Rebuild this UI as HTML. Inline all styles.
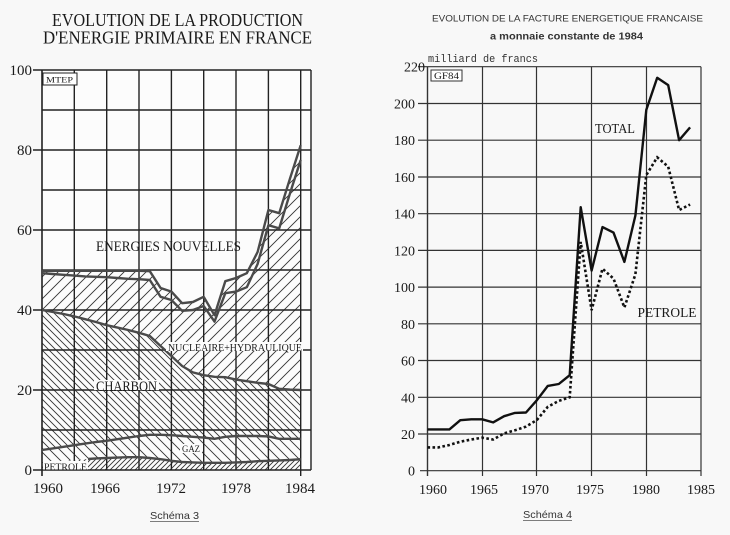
<!DOCTYPE html>
<html><head><meta charset="utf-8"><style>
html,body{margin:0;padding:0;background:#f8f8f8;}
svg{display:block;}
</style></head><body>
<svg width="730" height="535" viewBox="0 0 730 535" xmlns="http://www.w3.org/2000/svg">
<defs>
<pattern id="hP" width="5" height="5" patternUnits="userSpaceOnUse"><path d="M0,5 L5,0 M-1,1 L1,-1 M4,6 L6,4" stroke="#333" stroke-width="0.9"/></pattern>
<pattern id="hG" width="10" height="10" patternUnits="userSpaceOnUse"><path d="M0,0 L10,10 M-1,9 L1,11 M9,-1 L11,1" stroke="#333" stroke-width="0.9"/></pattern>
<pattern id="hC" width="7" height="7" patternUnits="userSpaceOnUse"><path d="M0,0 L7,7 M-1,6 L1,8 M6,-1 L8,1" stroke="#333" stroke-width="0.9"/></pattern>
<pattern id="hN" width="11" height="11" patternUnits="userSpaceOnUse"><path d="M0,11 L11,0 M-1,1 L1,-1 M10,12 L12,10" stroke="#333" stroke-width="0.9"/></pattern>
</defs>
<rect width="730" height="535" fill="#f8f8f8"/>

<!-- LEFT CHART -->
<text x="52" y="26" font-family="Liberation Serif, serif" font-size="17.5" fill="#1a1a1a" textLength="251" lengthAdjust="spacingAndGlyphs">EVOLUTION DE LA PRODUCTION</text>
<text x="43" y="43.5" font-family="Liberation Serif, serif" font-size="17.5" fill="#1a1a1a" textLength="269" lengthAdjust="spacingAndGlyphs">D'ENERGIE PRIMAIRE EN FRANCE</text>

<rect x="42" y="70" width="269" height="400" fill="#fcfcfc"/>

<!-- areas -->
<polygon fill="url(#hP)" points="42,462.8 52.8,462 63.6,461.2 74.3,460 85.1,459.2 95.9,458.4 106.7,458 117.5,457.6 128.2,457.2 139,457.2 149.8,458 160.6,459.2 171.4,460.8 182.1,462 192.9,462.4 203.7,462.8 214.5,462.8 225.3,462.8 236,462.4 246.8,462 257.6,461.2 268.4,460.8 279.2,460.4 289.9,460 300.7,459.2 300.7,470 42,470"/>
<polygon fill="url(#hG)" points="42,450 52.8,448.4 63.6,446.8 74.3,445.2 85.1,443.6 95.9,442 106.7,440.8 117.5,439.2 128.2,437.6 139,436 149.8,434.8 160.6,434.8 171.4,435.2 182.1,436 192.9,436.8 203.7,437.6 214.5,438.8 225.3,436.8 236,436 246.8,436 257.6,436 268.4,436.4 279.2,438.8 289.9,438.8 300.7,438.8 300.7,459.2 289.9,460 279.2,460.4 268.4,460.8 257.6,461.2 246.8,462 236,462.4 225.3,462.8 214.5,462.8 203.7,462.8 192.9,462.4 182.1,462 171.4,460.8 160.6,459.2 149.8,458 139,457.2 128.2,457.2 117.5,457.6 106.7,458 95.9,458.4 85.1,459.2 74.3,460 63.6,461.2 52.8,462 42,462.8"/>
<polygon fill="url(#hC)" points="42,310 52.8,312 63.6,314 74.3,316.4 85.1,319.2 95.9,322 106.7,325.2 117.5,327.6 128.2,330 139,332.8 149.8,336 160.6,346 171.4,356 182.1,366 192.9,372.4 203.7,375.2 214.5,376.8 225.3,377.2 236,379.6 246.8,381.2 257.6,382.8 268.4,384 279.2,388.8 289.9,389.6 300.7,390 300.7,438.8 289.9,438.8 279.2,438.8 268.4,436.4 257.6,436 246.8,436 236,436 225.3,436.8 214.5,438.8 203.7,437.6 192.9,436.8 182.1,436 171.4,435.2 160.6,434.8 149.8,434.8 139,436 128.2,437.6 117.5,439.2 106.7,440.8 95.9,442 85.1,443.6 74.3,445.2 63.6,446.8 52.8,448.4 42,450"/>
<polygon fill="url(#hN)" points="42,270.8 52.8,270.8 63.6,270.8 74.3,270.8 85.1,270.8 95.9,270.8 106.7,270.8 117.5,270.8 128.2,270.8 139,270.8 149.8,271.2 160.6,288 171.4,291.6 182.1,303.2 192.9,302 203.7,296.8 214.5,315.2 225.3,281.2 236,278 246.8,273.2 257.6,252 268.4,210 279.2,213.2 289.9,178.8 300.7,145.2 300.7,390 289.9,389.6 279.2,388.8 268.4,384 257.6,382.8 246.8,381.2 236,379.6 225.3,377.2 214.5,376.8 203.7,375.2 192.9,372.4 182.1,366 171.4,356 160.6,346 149.8,336 139,332.8 128.2,330 117.5,327.6 106.7,325.2 95.9,322 85.1,319.2 74.3,316.4 63.6,314 52.8,312 42,310"/>

<!-- grid -->
<g stroke="#222" stroke-width="1.4" fill="none">
<path d="M42,70 H311 M42,110 H311 M42,150 H311 M42,190 H311 M42,230 H311 M42,270 H311 M42,310 H311 M42,350 H311 M42,390 H311 M42,430 H311 M42,470 H311"/>
<path d="M74.3,70 V470 M106.7,70 V470 M139,70 V470 M171.4,70 V470 M203.7,70 V470 M236,70 V470 M268.4,70 V470 M300.7,70 V476 M311,70 V470"/>
<path d="M42,70 V476" stroke-width="1.6"/>
<path d="M33,70 H42 M33,150 H42 M33,230 H42 M33,310 H42 M33,390 H42 M33,470 H42"/>
</g>

<!-- series lines -->
<g stroke="#4a4a4a" stroke-width="2.4" fill="none" stroke-linejoin="round">
<polyline points="88,459 95.9,458.4 106.7,458 117.5,457.6 128.2,457.2 139,457.2 149.8,458 160.6,459.2 171.4,460.8 182.1,462 192.9,462.4 203.7,462.8 214.5,462.8 225.3,462.8 236,462.4 246.8,462 257.6,461.2 268.4,460.8 279.2,460.4 289.9,460 300.7,459.2"/>
<polyline points="42,450 52.8,448.4 63.6,446.8 74.3,445.2 85.1,443.6 95.9,442 106.7,440.8 117.5,439.2 128.2,437.6 139,436 149.8,434.8 160.6,434.8 171.4,435.2 182.1,436 192.9,436.8 203.7,437.6 214.5,438.8 225.3,436.8 236,436 246.8,436 257.6,436 268.4,436.4 279.2,438.8 289.9,438.8 300.7,438.8"/>
<polyline points="42,310 52.8,312 63.6,314 74.3,316.4 85.1,319.2 95.9,322 106.7,325.2 117.5,327.6 128.2,330 139,332.8 149.8,336 160.6,346 171.4,356 182.1,366 192.9,372.4 203.7,375.2 214.5,376.8 225.3,377.2 236,379.6 246.8,381.2 257.6,382.8 268.4,384 279.2,388.8 289.9,389.6 300.7,390"/>
<polyline points="42,273.2 52.8,274 63.6,274.8 74.3,275.6 85.1,276.4 95.9,276.8 106.7,277.2 117.5,278 128.2,278.8 139,279.2 149.8,280 160.6,296.8 171.4,300 182.1,310.8 192.9,310 203.7,306 214.5,321.6 225.3,293.2 236,291.6 246.8,287.2 257.6,264 268.4,225.2 279.2,228.4 289.9,193.6 300.7,160"/>
<polyline points="42,270.8 52.8,270.8 63.6,270.8 74.3,270.8 85.1,270.8 95.9,270.8 106.7,270.8 117.5,270.8 128.2,270.8 139,270.8 149.8,271.2 160.6,288 171.4,291.6 182.1,303.2 192.9,302 203.7,296.8 214.5,315.2 225.3,281.2 236,278 246.8,273.2 257.6,252 268.4,210 279.2,213.2 289.9,178.8 300.7,145.2"/>
</g>

<!-- labels -->
<rect x="43" y="73" width="34" height="12" fill="#fff" stroke="#222" stroke-width="1"/>
<text x="46" y="82.5" font-family="Liberation Serif, serif" font-size="8.5" fill="#1a1a1a" textLength="27" lengthAdjust="spacingAndGlyphs">MTEP</text>
<text x="96" y="251" font-family="Liberation Serif, serif" font-size="14.5" fill="#1a1a1a" textLength="145" lengthAdjust="spacingAndGlyphs">ENERGIES NOUVELLES</text>
<rect x="166" y="342" width="137" height="9" fill="#fcfcfc"/>
<text x="168" y="351" font-family="Liberation Serif, serif" font-size="10" fill="#1a1a1a" textLength="134" lengthAdjust="spacingAndGlyphs">NUCLEAIRE+HYDRAULIQUE</text>
<rect x="94" y="380" width="65" height="10" fill="#fcfcfc"/>
<text x="96" y="391" font-family="Liberation Serif, serif" font-size="14.5" fill="#1a1a1a" textLength="61" lengthAdjust="spacingAndGlyphs">CHARBON</text>
<rect x="180" y="444" width="22" height="9" fill="#fcfcfc"/>
<text x="182" y="452" font-family="Liberation Serif, serif" font-size="9" fill="#1a1a1a" textLength="18" lengthAdjust="spacingAndGlyphs">GAZ</text>
<rect x="43" y="461" width="45" height="8.5" fill="#fcfcfc"/>
<text x="44" y="470" font-family="Liberation Serif, serif" font-size="9" fill="#1a1a1a" textLength="43" lengthAdjust="spacingAndGlyphs">PETROLE</text>

<g font-family="Liberation Serif, serif" font-size="15" fill="#1a1a1a" text-anchor="end">
<text x="32" y="75">100</text>
<text x="32" y="155">80</text>
<text x="32" y="235">60</text>
<text x="32" y="315">40</text>
<text x="32" y="395">20</text>
<text x="32" y="475">0</text>
</g>
<g font-family="Liberation Serif, serif" font-size="15" fill="#1a1a1a" text-anchor="middle">
<text x="48" y="493">1960</text>
<text x="105" y="493">1966</text>
<text x="171" y="493">1972</text>
<text x="236" y="493">1978</text>
<text x="300" y="493">1984</text>
</g>
<text x="150" y="519" font-family="Liberation Sans, sans-serif" font-size="10.5" fill="#333" textLength="49" lengthAdjust="spacingAndGlyphs">Schéma 3</text>
<line x1="150" y1="521.5" x2="199" y2="521.5" stroke="#555" stroke-width="0.8"/>

<!-- RIGHT CHART -->
<text x="432" y="21.5" font-family="Liberation Sans, sans-serif" font-size="9.5" fill="#333" textLength="271" lengthAdjust="spacingAndGlyphs">EVOLUTION DE LA FACTURE ENERGETIQUE FRANCAISE</text>
<text x="490" y="39.5" font-family="Liberation Sans, sans-serif" font-size="10" font-weight="bold" fill="#333" textLength="153" lengthAdjust="spacingAndGlyphs">a monnaie constante de 1984</text>
<text x="428" y="62" font-family="Liberation Mono, monospace" font-size="11" fill="#333" textLength="110" lengthAdjust="spacingAndGlyphs">milliard de francs</text>

<g stroke="#333" stroke-width="1.2" fill="none">
<path d="M427.5,66.7 H701 M427.5,103.5 H701 M427.5,140.2 H701 M427.5,177 H701 M427.5,213.7 H701 M427.5,250.4 H701 M427.5,287.1 H701 M427.5,323.8 H701 M427.5,360.5 H701 M427.5,397.3 H701 M427.5,434 H701"/>
<path d="M420,470.7 H701"/>
<path d="M482.5,66.7 V476 M536.5,66.7 V476 M591.5,66.7 V476 M646.5,66.7 V476 M701,66.7 V476"/>
<path d="M427.5,66.7 V476" stroke-width="1.4"/>
<path d="M418,66.7 H427.5 M418,103.5 H427.5 M418,140.2 H427.5 M418,177 H427.5 M418,213.7 H427.5 M418,250.4 H427.5 M418,287.1 H427.5 M418,323.8 H427.5 M418,360.5 H427.5 M418,397.3 H427.5 M418,434 H427.5"/>
</g>

<rect x="431" y="70" width="31" height="11" fill="#fff" stroke="#333" stroke-width="1"/>
<text x="434" y="79" font-family="Liberation Serif, serif" font-size="9" fill="#1a1a1a" textLength="25" lengthAdjust="spacingAndGlyphs">GF84</text>

<polyline fill="none" stroke="#111" stroke-width="2.4" stroke-linejoin="round" points="427.5,429.4 438.4,429.4 449.4,429.4 460.3,420.2 471.3,419.3 482.2,419.3 493.1,422.4 504.1,416.2 515,412.9 526,412.5 536.9,400.2 547.8,385.9 558.8,384 569.7,375.2 580.7,207.2 591.6,270.6 602.5,227.1 613.5,232.6 624.4,261.9 635.4,215.5 646.3,109.9 657.2,77.8 668.2,85.1 679.1,140.2 690.1,127.4"/>
<polyline fill="none" stroke="#111" stroke-width="2.6" stroke-dasharray="2.6 2.4" points="427.5,447.4 438.4,447.4 449.4,445 460.3,441.7 471.3,439.5 482.2,437.7 493.1,439.5 504.1,433.4 515,430.3 526,426.6 536.9,420 547.8,406.8 558.8,400.9 569.7,397.3 580.7,241.9 591.6,310.2 602.5,268.7 613.5,278.6 624.4,307.5 635.4,274.3 646.3,175.1 657.2,157.3 668.2,166.7 679.1,210 690.1,204.5"/>

<text x="595" y="133" font-family="Liberation Serif, serif" font-size="13.5" fill="#1a1a1a" textLength="40" lengthAdjust="spacingAndGlyphs">TOTAL</text>
<text x="637.5" y="317" font-family="Liberation Serif, serif" font-size="13.5" fill="#1a1a1a" textLength="59" lengthAdjust="spacingAndGlyphs">PETROLE</text>

<g font-family="Liberation Serif, serif" font-size="14" fill="#1a1a1a" text-anchor="end">
<text x="425" y="71.5">220</text>
<text x="415" y="108.5">200</text>
<text x="415" y="145.2">180</text>
<text x="415" y="182">160</text>
<text x="415" y="218.7">140</text>
<text x="415" y="255.4">120</text>
<text x="415" y="292.1">100</text>
<text x="415" y="328.8">80</text>
<text x="415" y="365.5">60</text>
<text x="415" y="402.3">40</text>
<text x="415" y="439">20</text>
<text x="415" y="475.7">0</text>
</g>
<g font-family="Liberation Serif, serif" font-size="14" fill="#1a1a1a" text-anchor="middle">
<text x="433" y="494">1960</text>
<text x="484" y="494">1965</text>
<text x="535" y="494">1970</text>
<text x="590" y="494">1975</text>
<text x="646" y="494">1980</text>
<text x="701" y="494">1985</text>
</g>
<text x="523" y="518" font-family="Liberation Sans, sans-serif" font-size="10.5" fill="#333" textLength="49" lengthAdjust="spacingAndGlyphs">Schéma 4</text>
<line x1="523" y1="520.5" x2="572" y2="520.5" stroke="#555" stroke-width="0.8"/>
</svg>
</body></html>
